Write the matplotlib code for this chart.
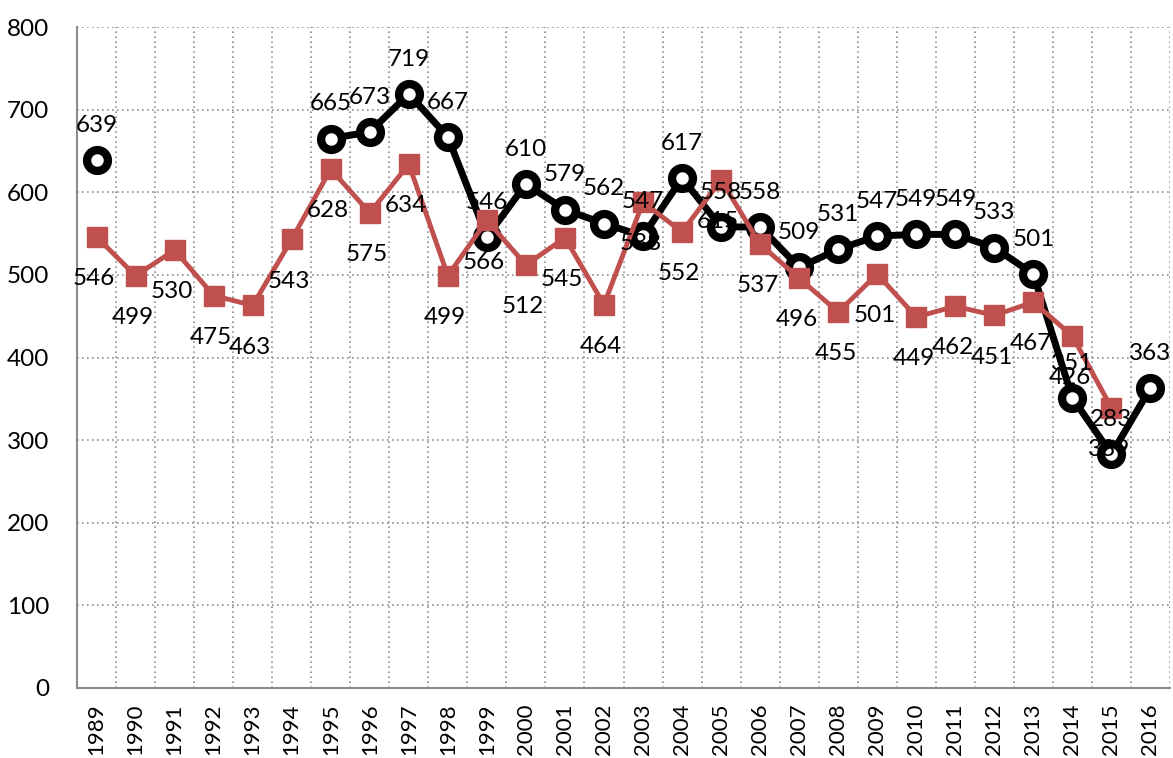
import numpy as np
import matplotlib
matplotlib.use('Agg')
import matplotlib.pyplot as plt

plt.rcParams['font.family'] = ['Lato', 'DejaVu Sans']

years = [str(y) for y in range(1989, 2017)]
black_vals = [639, np.nan, np.nan, np.nan, np.nan, np.nan, 665, 673, 719, 667,
              546, 610, 579, 562, 547, 617, 558, 558, 509, 531,
              547, 549, 549, 533, 501, 351, 283, 363]
red_vals = [546, 499, 530, 475, 463, 543, 628, 575, 634, 499,
            566, 512, 545, 464, 588, 552, 615, 537, 496, 455,
            501, 449, 462, 451, 467, 426, 339, np.nan]

fig = plt.figure(figsize=(11.73, 7.58), dpi=100)
ax = fig.add_axes([77/1173, 70/758, 1093/1173, 661/758])

x = np.arange(len(years))
black = np.array(black_vals, dtype=float)
red = np.array(red_vals, dtype=float)

ax.plot(x, black, color='black', lw=5, marker='o', ms=15,
        mfc='white', mec='black', mew=6, zorder=3)
ax.plot(x, red, color='#C0504D', lw=3.5, marker='s', ms=14,
        mfc='#C0504D', mec='#C0504D', zorder=4)

fs = 17.5
# 数据标签
for xi, v in zip(x, black):
    if not np.isnan(v):
        ax.annotate(str(int(v)), (xi, v), xytext=(0, 25), textcoords='offset points',
                    ha='center', va='center', fontsize=fs, zorder=5)
for xi, v in zip(x, red):
    if not np.isnan(v):
        ax.annotate(str(int(v)), (xi, v), xytext=(-2, -30), textcoords='offset points',
                    ha='center', va='center', fontsize=fs, zorder=5)

ax.set_xlim(-0.5, len(years) - 0.5)
ax.set_ylim(0, 800)
ax.set_yticks(range(0, 801, 100))
ax.set_xticks(x)
ax.set_xticklabels(years, rotation=90, fontsize=16)
ax.tick_params(axis='y', labelsize=fs, length=0, pad=20)
ax.tick_params(axis='x', length=0, pad=11)

# 网格
for g in range(100, 801, 100):
    ax.axhline(g, color='#909090', lw=1.2, ls=(0, (1, 2)), zorder=1)
for b in np.arange(0.5, len(years), 1):
    ax.axvline(b, color='#909090', lw=1.2, ls=(0, (1, 2)), zorder=1)

for s in ['top', 'right']:
    ax.spines[s].set_visible(False)
for s in ['left', 'bottom']:
    ax.spines[s].set_color('#8c8c8c')
    ax.spines[s].set_linewidth(1.5)

fig.savefig('out.png', dpi=100)
